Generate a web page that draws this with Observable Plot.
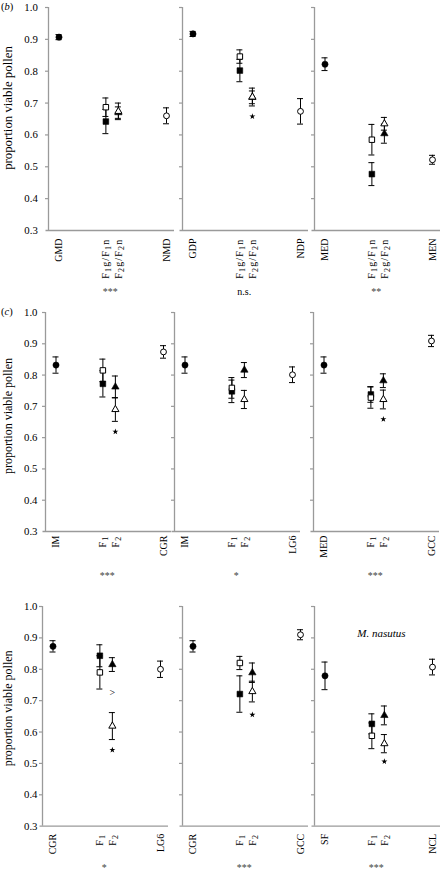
<!DOCTYPE html>
<html><head><meta charset="utf-8">
<script src="https://cdn.jsdelivr.net/npm/d3@7"></script>
<script src="https://cdn.jsdelivr.net/npm/@observablehq/plot@0.6"></script>
<style>
body{margin:0;background:#fff;}
#root{position:relative;width:441px;height:873px;overflow:hidden;font-family:"Liberation Serif","Times New Roman",serif;}
#root svg text{font-family:"Liberation Serif","Times New Roman",serif;}
.tag{position:absolute;font-size:10.5px;line-height:1;}
</style></head><body><div id="root"></div>
<script>
// ---------------- data (one entry per panel, rows (b), (c) top, (c) bottom) ----------------
const parentLeft   = ["GMD", "GDP", "MED", "IM", "IM", "MED", "CGR", "CGR", "SF"];
const parentRight  = ["NMD", "NDP", "MEN", "CGR", "LG6", "GCC", "LG6", "GCC", "NCL"];
const f1Labels     = ["F_1g/F_1n", "F_1g/F_1n", "F_1g/F_1n", "F_1", "F_1", "F_1", "F_1", "F_1", "F_1"];
const f2Labels     = ["F_2g/F_2n", "F_2g/F_2n", "F_2g/F_2n", "F_2", "F_2", "F_2", "F_2", "F_2", "F_2"];
const significance = ["***", "n.s.", "**", "***", "*", "***", "*", "***", "***"];

const leftMean     = [0.907, 0.917, 0.822, 0.832, 0.832, 0.832, 0.873, 0.873, 0.779];
const leftErr      = [0.008, 0.008, 0.020, 0.026, 0.026, 0.026, 0.018, 0.018, 0.044];
const rightMean    = [0.660, 0.674, 0.522, 0.874, 0.801, 0.909, 0.800, 0.910, 0.807];
const rightErr     = [0.025, 0.040, 0.014, 0.020, 0.025, 0.018, 0.026, 0.016, 0.025];
const f1OpenMean   = [0.687, 0.846, 0.585, 0.815, 0.759, 0.728, 0.790, 0.820, 0.588];
const f1OpenErr    = [0.029, 0.021, 0.048, 0.036, 0.033, 0.034, 0.053, 0.021, 0.041];
const f1FilledMean = [0.642, 0.802, 0.477, 0.772, 0.748, 0.738, 0.843, 0.721, 0.626];
const f1FilledErr  = [0.038, 0.035, 0.036, 0.042, 0.036, 0.025, 0.035, 0.058, 0.032];
const f2OpenMean   = [0.674, 0.719, 0.635, 0.690, 0.722, 0.722, 0.619, 0.729, 0.563];
const f2OpenErr    = [0.026, 0.028, 0.020, 0.038, 0.029, 0.030, 0.043, 0.033, 0.029];
const f2FilledMean = [0.670, 0.718, 0.604, 0.762, 0.816, 0.782, 0.815, 0.789, 0.653];
const f2FilledErr  = [0.018, 0.020, 0.030, 0.035, 0.024, 0.022, 0.022, 0.031, 0.030];
const starValue    = [null, 0.658, null, 0.619, null, 0.659, 0.543, 0.655, 0.506];

const yTicks = [0.3, 0.4, 0.5, 0.6, 0.7, 0.8, 0.9, 1.0];
const yTitle = "proportion viable pollen";
const notes = [
  {panel: 6, text: ">", y: 0.724, at: "F2", italic: false},
  {panel: 8, text: "M. nasutus", y: 0.913, at: "mid", italic: true}
];
const rowTags = ["b", "c", null];

// ---------------- layout / style ----------------
const serif = '"Liberation Serif","Times New Roman",serif';
const slot = {P1: 1, F1: 4.75, F2: 5.75, P2: 9.6, mid: 5.51, sig: 5.1};
const xDomain = [0.16, 10.24];
const frameW = 126;
const rows = [
  {top: 7,     bottom: 230,   axes: [48, 181.7, 314.3], tagTop: 1.5,   titleFont: 12.8, titleDx: -40.5, titleDy: -11, tickGap: 10.7, labelGap: 8,   sigGap: 64},
  {top: 312.3, bottom: 531.3, axes: [45.3, 174, 313.3], tagTop: 306.5, titleFont: 12,   titleDx: -37,   titleDy: -6,  tickGap: 8,    labelGap: 4,   sigGap: 47},
  {top: 606,   bottom: 825.7, axes: [42.3, 181.7, 313.7], tagTop: null, titleFont: 12,  titleDx: -34,   titleDy: -8,  tickGap: 5,    labelGap: 7.6, sigGap: 45}
];
const mL = 48, mR = 3, mT = 8, mB = 75;
const axisGray = "#9a9a9a";
const root = document.getElementById("root");

function applySubscripts(svg) {
  svg.querySelectorAll("text").forEach(t => {
    const s = t.textContent;
    if (!s.includes("_")) return;
    const fs = 10;
    t.textContent = "";
    t.style.letterSpacing = "1.2px";
    const parts = s.split(/_(\d)/);
    let lowered = false;
    parts.forEach((part, i) => {
      if (!part) return;
      const ts = document.createElementNS("http://www.w3.org/2000/svg", "tspan");
      ts.textContent = part;
      if (i % 2 === 1) {
        ts.setAttribute("font-size", fs * 0.8);
        ts.setAttribute("dy", 2.4);
        lowered = true;
      } else if (lowered) {
        ts.setAttribute("dy", -2.4);
        lowered = false;
      }
      t.appendChild(ts);
    });
  });
}

for (let p = 0; p < 9; p++) {
  const ri = Math.floor(p / 3), col = p % 3;
  const r = rows[ri];
  const axisX = r.axes[col];
  const h = r.bottom - r.top;

  const filled = [
    {s: "P1", sym: "circle", rr: 4.4, mean: leftMean[p], err: leftErr[p]},
    {s: "F1", sym: "square", rr: 4.8, mean: f1FilledMean[p], err: f1FilledErr[p]},
    {s: "F2", sym: "triangle", rr: 3.5, mean: f2FilledMean[p], err: f2FilledErr[p]}
  ];
  const open = [
    {s: "F1", sym: "square", rr: 4.4, mean: f1OpenMean[p], err: f1OpenErr[p]},
    {s: "F2", sym: "triangle", rr: 3.3, mean: f2OpenMean[p], err: f2OpenErr[p]},
    {s: "P2", sym: "circle", rr: 4.0, mean: rightMean[p], err: rightErr[p]}
  ];
  const all = filled.concat(open);
  const caps = all.flatMap(d => [{s: d.s, v: d.mean - d.err}, {s: d.s, v: d.mean + d.err}]);
  const labels = [
    {s: "P1", t: parentLeft[p]}, {s: "F1", t: f1Labels[p]},
    {s: "F2", t: f2Labels[p]}, {s: "P2", t: parentRight[p]}
  ];

  const marks = [
    Plot.ruleX([xDomain[0]], {stroke: axisGray, strokeWidth: 1.3}),
    Plot.ruleY([0.3], {x1: xDomain[0] - 0.2, x2: xDomain[1], stroke: axisGray, strokeWidth: 1.3}),
    Plot.ruleY(yTicks.filter(v => v > 0.3), {x1: xDomain[0] - 3 / 12.5, x2: xDomain[0], stroke: axisGray, strokeWidth: 1.2}),
    Plot.ruleX(all, {x: d => slot[d.s], y1: d => d.mean - d.err, y2: d => d.mean + d.err, stroke: "black", strokeWidth: 1}),
    Plot.ruleY(caps, {y: "v", x1: d => slot[d.s] - 0.24, x2: d => slot[d.s] + 0.24, stroke: "black", strokeWidth: 1})
  ];
  for (const sym of ["circle", "square", "triangle"]) {
    marks.push(Plot.dot(filled.filter(d => d.sym === sym), {x: d => slot[d.s], y: "mean", symbol: sym, r: d => d.rr, fill: "black", stroke: "black", strokeWidth: 0.6}));
  }
  for (const sym of ["square", "triangle", "circle"]) {
    marks.push(Plot.dot(open.filter(d => d.sym === sym), {x: d => slot[d.s], y: "mean", symbol: sym, r: d => d.rr, fill: "white", stroke: "black", strokeWidth: 1}));
  }
  if (starValue[p] != null) {
    marks.push(Plot.dot([starValue[p]], {x: () => slot.F2, y: d => d, symbol: "star", r: 1.9, fill: "black", stroke: "none"}));
  }
  marks.push(Plot.text(labels, {x: d => slot[d.s], y: 0.3, dy: r.labelGap, rotate: -90, textAnchor: "end", lineAnchor: "middle", text: "t", fontSize: 10, fontFamily: serif}));
  marks.push(Plot.text([significance[p]], {x: slot.sig, y: 0.3, dy: r.sigGap, lineAnchor: "bottom", textAnchor: "middle", fontSize: 10, fontFamily: serif, fill: significance[p].includes("*") ? "#444" : "black"}));
  if (col === 0) {
    marks.push(Plot.text(yTicks, {x: xDomain[0], y: d => d, dx: -r.tickGap, textAnchor: "end", lineAnchor: "middle", text: d => d3.format(".1f")(d), fontSize: 10.8, fontFamily: serif}));
    marks.push(Plot.text([yTitle], {frameAnchor: "left", rotate: -90, dx: r.titleDx, dy: r.titleDy, textAnchor: "middle", lineAnchor: "middle", fontSize: r.titleFont, fontFamily: serif}));
  }
  for (const n of notes.filter(n => n.panel === p)) {
    marks.push(Plot.text([n.text], {x: slot[n.at], y: n.y, textAnchor: "middle", lineAnchor: "middle", fontSize: n.italic ? 11 : 10, fontStyle: n.italic ? "italic" : "normal", fontFamily: serif}));
  }

  const svg = Plot.plot({
    width: mL + frameW + mR,
    height: h + mT + mB,
    marginLeft: mL, marginRight: mR, marginTop: mT, marginBottom: mB,
    x: {type: "linear", domain: xDomain, axis: null},
    y: {type: "linear", domain: [0.3, 1.0], axis: null},
    style: {background: "none", overflow: "visible", fontFamily: serif, fontSize: "10px", color: "black"},
    marks
  });
  applySubscripts(svg);
  svg.style.position = "absolute";
  svg.style.left = (axisX - mL) + "px";
  svg.style.top = (r.top - mT) + "px";
  svg.style.maxWidth = "none";
  root.appendChild(svg);
}

rows.forEach((r, i) => {
  if (!rowTags[i]) return;
  const el = document.createElement("div");
  el.className = "tag";
  el.style.left = "1px";
  el.style.top = r.tagTop + "px";
  el.innerHTML = "(<i>" + rowTags[i] + "</i>)";
  root.appendChild(el);
});
</script></body></html>
